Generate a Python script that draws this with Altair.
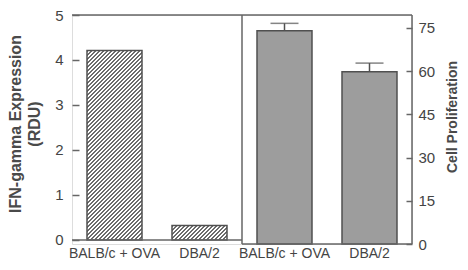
import altair as alt
import pandas as pd

# ---- data ----
groups = ["BALB/c + OVA", "DBA/2"]
ifn_values = [4.21, 0.32]            # IFN-gamma expression (RDU)
prolif_values = [74.0, 59.8]         # cell proliferation
prolif_err_top = [76.6, 62.8]        # top of error bars
left_ticks = [0, 1, 2, 3, 4, 5]
right_ticks = [0, 15, 30, 45, 60, 75]
left_title = ["IFN-gamma  Expression", "(RDU)"]
right_title = "Cell Proliferation"

# ---- layout constants ----
W, H = 340, 229
LEFT_DOMAIN = [-0.0889, 5]
RIGHT_DOMAIN = [0, 79.5]
FONT = "Liberation Sans"
LINE = "#666666"
BAR_STROKE = "#505050"

keys = ["L|" + g for g in groups] + ["R|" + g for g in groups]
left_df = pd.DataFrame({"key": ["L|" + g for g in groups], "val": ifn_values})
right_df = pd.DataFrame({"key": ["R|" + g for g in groups], "val": prolif_values,
                         "top": prolif_err_top})
one = pd.DataFrame({"a": [0]})

x_axis = alt.Axis(labelExpr="split(datum.value, '|')[1]", ticks=False, domain=False,
                  labelAngle=0, labelFont=FONT, labelFontSize=14, labelColor="#444444",
                  labelPadding=2, title=None, grid=False)
x_scale = alt.Scale(domain=keys, paddingInner=0.353, paddingOuter=0.1765)
X = alt.X("key:N", scale=x_scale, axis=x_axis, sort=keys)

left_axis = alt.Axis(orient="left", values=left_ticks, offset=-7, tickSize=7,
                     tickColor=LINE, tickWidth=1.5, domain=False, grid=False,
                     labelFont=FONT, labelFontSize=15, labelColor="#444444",
                     labelPadding=9, title=None, labelFlush=False, labelOverlap=False)
right_axis = alt.Axis(orient="right", values=right_ticks, offset=-6, tickSize=6,
                      tickColor=LINE, tickWidth=1.5, domain=False, grid=False,
                      labelFont=FONT, labelFontSize=15, labelColor="#444444",
                      labelPadding=6, title=None, labelFlush=False, labelOverlap=False)
left_scale = alt.Scale(domain=LEFT_DOMAIN, nice=False, zero=False)
right_scale = alt.Scale(domain=RIGHT_DOMAIN, nice=False, zero=False)


def hatch(w, h, period=4.0, duty=0.4, dark="#6c6c6c", light="#ffffff"):
    k = (w + h) / (w * w + h * h)
    n = (w + h) / period
    stops = []
    i = 0
    while i < n:
        t0 = min(i / n, 1)
        t1 = min((i + duty) / n, 1)
        t2 = min((i + 1) / n, 1)
        stops += [(t0, dark), (t1, dark), (t1, light), (t2, light)]
        i += 1
    return alt.LinearGradient(
        gradient="linear", x1=0, y1=0, x2=round(k * w, 5), y2=round(k * h, 5),
        stops=[alt.GradientStop(offset=round(o, 5), color=c) for o, c in stops])


px_per_unit = H / (LEFT_DOMAIN[1] - LEFT_DOMAIN[0])
band_w = (W / 4) * (1 - 0.353)

left_bars = []
for g, v in zip(groups, ifn_values):
    key = "L|" + g
    left_bars.append(
        alt.Chart(left_df).transform_filter(alt.datum.key == key)
        .mark_bar(fill=hatch(band_w, v * px_per_unit), stroke=BAR_STROKE, strokeWidth=1.5)
        .encode(x=X, y=alt.Y("val:Q", scale=left_scale, axis=left_axis), y2=alt.datum(0))
    )

left_lines = [
    alt.Chart(one).mark_rule(color=LINE, strokeWidth=1.5).encode(
        x=alt.value(0), x2=alt.value(W / 2), y=alt.datum(0)),
    alt.Chart(one).mark_rule(color=LINE, strokeWidth=1.5).encode(
        x=alt.value(0), y=alt.value(0), y2=alt.datum(0)),
]
left_layer = alt.layer(*left_bars, *left_lines)

right_bars = alt.Chart(right_df).mark_bar(fill="#9d9d9d", stroke=BAR_STROKE, strokeWidth=1.5).encode(
    x=X, y=alt.Y("val:Q", scale=right_scale, axis=right_axis), y2=alt.datum(0))
err_rule = alt.Chart(right_df).mark_rule(color=BAR_STROKE, strokeWidth=1.5).encode(
    x=X, y=alt.Y("val:Q", scale=right_scale, axis=right_axis), y2="top:Q")
err_cap = alt.Chart(right_df).mark_tick(color=BAR_STROKE, thickness=1.5, size=28).encode(
    x=X, y=alt.Y("top:Q", scale=right_scale, axis=right_axis))
right_layer = alt.layer(right_bars, err_rule, err_cap)

frame = alt.layer(
    alt.Chart(one).mark_rule(color=LINE, strokeWidth=1.5).encode(
        x=alt.value(0), x2=alt.value(W), y=alt.value(0)),
    alt.Chart(one).mark_rule(color=LINE, strokeWidth=1.5).encode(
        x=alt.value(W / 2), y=alt.value(0), y2=alt.value(H)),
    alt.Chart(one).mark_rule(color=LINE, strokeWidth=1.5).encode(
        x=alt.value(W / 2), x2=alt.value(W), y=alt.value(H)),
    alt.Chart(one).mark_rule(color=LINE, strokeWidth=1.5).encode(
        x=alt.value(W), y=alt.value(0), y2=alt.value(H)),
    alt.Chart(one).mark_text(angle=270, font=FONT, fontWeight="bold", fontSize=16,
                             color="#4a4a4a", align="center", baseline="top",
                             lineHeight=19).encode(
        x=alt.value(-64), y=alt.value(109), text=alt.value(left_title)),
    alt.Chart(one).mark_text(angle=270, font=FONT, fontWeight="bold", fontSize=14,
                             color="#4a4a4a", align="center", baseline="middle").encode(
        x=alt.value(381), y=alt.value(102), text=alt.value(right_title)),
)

chart = alt.layer(left_layer, right_layer, frame).resolve_scale(y="independent").properties(
    width=W, height=H,
    autosize=alt.AutoSizeParams(type="none"),
    padding={"left": 64, "top": 7, "right": 48, "bottom": 19},
).configure_view(stroke=None).configure(background="white")

chart.save("out.html", embed_options={"renderer": "svg", "actions": False})
